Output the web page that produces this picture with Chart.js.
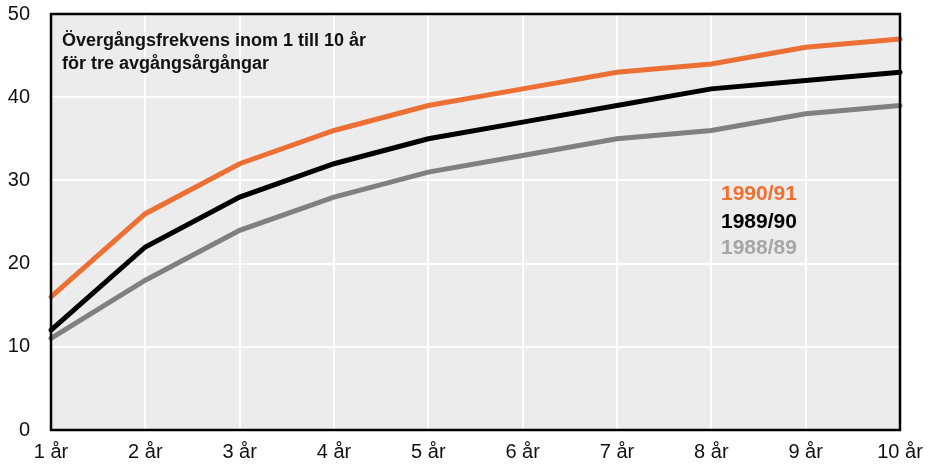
<!DOCTYPE html>
<html>
<head>
<meta charset="utf-8">
<script src="https://cdn.jsdelivr.net/npm/chart.js@4/dist/chart.umd.min.js"></script>
<style>
  html, body { margin: 0; padding: 0; background: #fff; }
  #wrap { width: 928px; height: 467px; }
</style>
</head>
<body>
<div id="wrap"><canvas id="c" width="928" height="467"></canvas></div>
<script>
const years = ['1 år', '2 år', '3 år', '4 år', '5 år', '6 år', '7 år', '8 år', '9 år', '10 år']
const cohort9091 = [16, 26, 32, 36, 39, 41, 43, 44, 46, 47]
const cohort8990 = [12, 22, 28, 32, 35, 37, 39, 41, 42, 43]
const cohort8889 = [11, 18, 24, 28, 31, 33, 35, 36, 38, 39]
const titleLines = ['Övergångsfrekvens inom 1 till 10 år', 'för tre avgångsårgångar']

const FONT = '"Liberation Sans", Arial, sans-serif'

// background + frame + in-chart texts
const frame = {
  id: 'frame',
  beforeDraw(chart) {
    const {ctx, chartArea: a} = chart
    ctx.save()
    ctx.fillStyle = '#ececec'
    ctx.fillRect(a.left, a.top, a.right - a.left, a.bottom - a.top)
    ctx.restore()
  },
  afterDatasetsDraw(chart) {
    const {ctx, chartArea: a} = chart
    ctx.save()
    ctx.strokeStyle = '#000'
    ctx.lineWidth = 2.5
    ctx.strokeRect(a.left, a.top, a.right - a.left, a.bottom - a.top)

    ctx.font = 'bold 18px ' + FONT
    ctx.fillStyle = '#111'
    ctx.textBaseline = 'middle'
    ctx.fillText(titleLines[0], a.left + 11, 41)
    ctx.fillText(titleLines[1], a.left + 11, 64)

    const legend = [['1990/91', '#ef7031'], ['1989/90', '#000000'], ['1988/89', '#a6a6a6']]
    const ys = [194, 222, 248]
    ctx.font = 'bold 21px ' + FONT
    legend.forEach((l, i) => {
      ctx.fillStyle = l[1]
      ctx.fillText(l[0], 721, ys[i])
    })
    ctx.restore()
  }
}

const ds = (label, data, color) => ({
  label, data,
  borderColor: color,
  backgroundColor: color,
  borderWidth: 5,
  pointRadius: 0,
  tension: 0,
  clip: false,
  borderCapStyle: 'round'
})

new Chart(document.getElementById('c'), {
  type: 'line',
  data: {
    labels: years,
    datasets: [
      ds('1988/89', cohort8889, '#808080'),
      ds('1989/90', cohort8990, '#000000'),
      ds('1990/91', cohort9091, '#ec6f33')
    ]
  },
  plugins: [frame],
  options: {
    responsive: false,
    animation: false,
    layout: { padding: { top: 14, right: 28, left: 0, bottom: 0 } },
    plugins: { legend: { display: false }, tooltip: { enabled: false } },
    scales: {
      x: {
        offset: false,
        grid: { color: '#ffffff', lineWidth: 2, drawTicks: false },
        border: { display: false },
        ticks: { color: '#111', font: { family: FONT, size: 20 }, padding: 10, maxRotation: 0, autoSkip: false },
        afterFit(s) { s.height = 37; s.paddingLeft = 0; s.paddingRight = 0 }
      },
      y: {
        min: 0, max: 50,
        grid: { color: '#ffffff', lineWidth: 2, drawTicks: false },
        border: { display: false },
        ticks: { stepSize: 10, color: '#111', font: { family: FONT, size: 20 }, padding: 21 },
        afterFit(s) { s.width = 51; s.paddingTop = 0; s.paddingBottom = 0 }
      }
    }
  }
})
</script>
</body>
</html>
